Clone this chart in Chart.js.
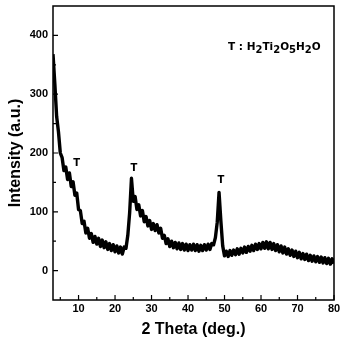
<!DOCTYPE html>
<html>
<head>
<meta charset="utf-8">
<script src="https://cdn.jsdelivr.net/npm/chart.js@4"></script>
<style>
html,body{margin:0;padding:0;background:#fff;}
#wrap{width:340px;height:346px;position:relative;}
</style>
</head>
<body>
<div id="wrap"><canvas id="c" width="340" height="346"></canvas></div>
<script>
const twoTheta = [3,3.5,4,4.5,5,5.5,6,6.5,7,7.5,8,8.5,9,9.5,10,10.5,11,11.5,12,12.5,13,13.5,14,14.5,15,15.5,16,16.5,17,17.5,18,18.5,19,19.5,20,20.5,21,21.5,22,22.5,23,23.5,24,24.5,25,25.5,26,26.5,27,27.5,28,28.5,29,29.5,30,30.5,31,31.5,32,32.5,33,33.5,34,34.5,35,35.5,36,36.5,37,37.5,38,38.5,39,39.5,40,40.5,41,41.5,42,42.5,43,43.5,44,44.5,45,45.5,46,46.5,47,47.5,48,48.5,49,49.5,50,50.5,51,51.5,52,52.5,53,53.5,54,54.5,55,55.5,56,56.5,57,57.5,58,58.5,59,59.5,60,60.5,61,61.5,62,62.5,63,63.5,64,64.5,65,65.5,66,66.5,67,67.5,68,68.5,69,69.5,70,70.5,71,71.5,72,72.5,73,73.5,74,74.5,75,75.5,76,76.5,77,77.5,78,78.5,79,79.5,80];
const intensity = [368,318,262,236,200,192,170,176,155,166,
143,151,128,132,104,102,80,84,64,72,
55,63,48,58,45,55,41,52,39,49,
36,46,34,44,32,42,30,40,28,40,
38,60,98,157,118,126,104,112,93,102,
83,92,76,85,70,80,68,78,64,72,
55,60,46,54,41,50,39,48,37,47,
36,46,35,45,34,44,35,45,34,44,
33,43,34,44,35,45,36,46,44,56,
82,133,84,42,25,33,24,34,26,35,
27,37,28,38,30,40,31,41,33,43,
34,45,36,46,37,48,38,49,37,48,
36,46,34,44,32,42,30,40,28,37,
26,35,24,33,22,31,20,29,19,28,
17,26,16,25,15,24,14,23,13,22,
12,21,11,20,12];
const xTickValues = [10,20,30,40,50,60,70,80];
const xMinorTicks = [5,15,25,35,45,55,65,75];
const yTickValues = [0,100,200,300,400];
const yMinorTicks = [50,150,250,350];
const markX = [9.5,25.2,49.0];
const markY = [183,173,154];
const markText = ['T','T','T'];
const legendParts = [['T : H',0],['2',1],['Ti',0],['2',1],['O',0],['5',1],['H',0],['2',1],['O',0]];

const FONT = '"Liberation Sans", Arial, sans-serif';
const LFONT = '"DejaVu Sans", Verdana, sans-serif';

const decor = {
  id:'decor',
  afterDatasetsDraw(chart){
    const ctx = chart.ctx, a = chart.chartArea;
    const xs = chart.scales.x, ys = chart.scales.y;
    ctx.save();
    ctx.strokeStyle = '#000';
    ctx.lineWidth = 1.5;
    ctx.strokeRect(a.left, a.top, a.right - a.left, a.bottom - a.top);
    ctx.lineWidth = 1.2;
    ctx.beginPath();
    xTickValues.forEach(v=>{const p=xs.getPixelForValue(v); ctx.moveTo(p,a.bottom); ctx.lineTo(p,a.bottom-5);});
    xMinorTicks.forEach(v=>{const p=xs.getPixelForValue(v); ctx.moveTo(p,a.bottom); ctx.lineTo(p,a.bottom-3);});
    yTickValues.forEach(v=>{const p=ys.getPixelForValue(v); ctx.moveTo(a.left,p); ctx.lineTo(a.left+5,p);});
    yMinorTicks.forEach(v=>{const p=ys.getPixelForValue(v); ctx.moveTo(a.left,p); ctx.lineTo(a.left+3,p);});
    ctx.stroke();
    ctx.fillStyle = '#000';
    ctx.font = 'bold 10px ' + LFONT;
    ctx.textAlign = 'center';
    ctx.textBaseline = 'middle';
    markX.forEach((v,i)=>{ ctx.fillText(markText[i], xs.getPixelForValue(v), ys.getPixelForValue(markY[i])); });
    ctx.textAlign = 'left';
    ctx.textBaseline = 'alphabetic';
    let x = a.left + 175;
    const base = a.top + 44;
    legendParts.forEach(([t,sub])=>{
      ctx.font = (sub ? 'bold 10px ' : 'bold 10.5px ') + LFONT;
      ctx.fillText(t, x, base + (sub ? 3 : 0));
      x += ctx.measureText(t).width;
    });
    ctx.restore();
  }
};

new Chart(document.getElementById('c'), {
  type:'line',
  data:{ datasets:[{
    data: twoTheta.map((x,i)=>({x:x, y:intensity[i]})),
    borderColor:'#000', borderWidth:3.4, pointRadius:0, tension:0, fill:false, borderJoinStyle:'round'
  }]},
  options:{
    responsive:false, animation:false,
    layout:{ padding:{ top:6, right:6, left:0, bottom:0 } },
    plugins:{ legend:{display:false}, tooltip:{enabled:false} },
    scales:{
      x:{ type:'linear', min:3, max:80,
        afterBuildTicks(s){ s.ticks = xTickValues.map(v=>({value:v})); },
        afterFit(s){ s.height = 46; s.paddingLeft = 0; s.paddingRight = 0; },
        grid:{ display:false, drawTicks:false },
        border:{ display:false },
        ticks:{ color:'#000', padding:2, maxRotation:0, autoSkip:false, font:{ family:FONT, weight:'bold', size:11 } },
        title:{ display:true, text:'2 Theta (deg.)', color:'#000', padding:{top:1,bottom:7}, font:{ family:FONT, weight:'bold', size:16 } }
      },
      y:{ type:'linear', min:-50, max:450,
        afterBuildTicks(s){ s.ticks = yTickValues.map(v=>({value:v})); },
        afterFit(s){ s.width = 53; s.paddingTop = 0; s.paddingBottom = 0; },
        grid:{ display:false, drawTicks:false },
        border:{ display:false },
        ticks:{ color:'#000', padding:5, autoSkip:false, font:{ family:FONT, weight:'bold', size:11 } },
        title:{ display:true, text:'Intensity (a.u.)', color:'#000', padding:{top:6,bottom:2}, font:{ family:FONT, weight:'bold', size:16 } }
      }
    }
  },
  plugins:[decor]
});
</script>
</body>
</html>
